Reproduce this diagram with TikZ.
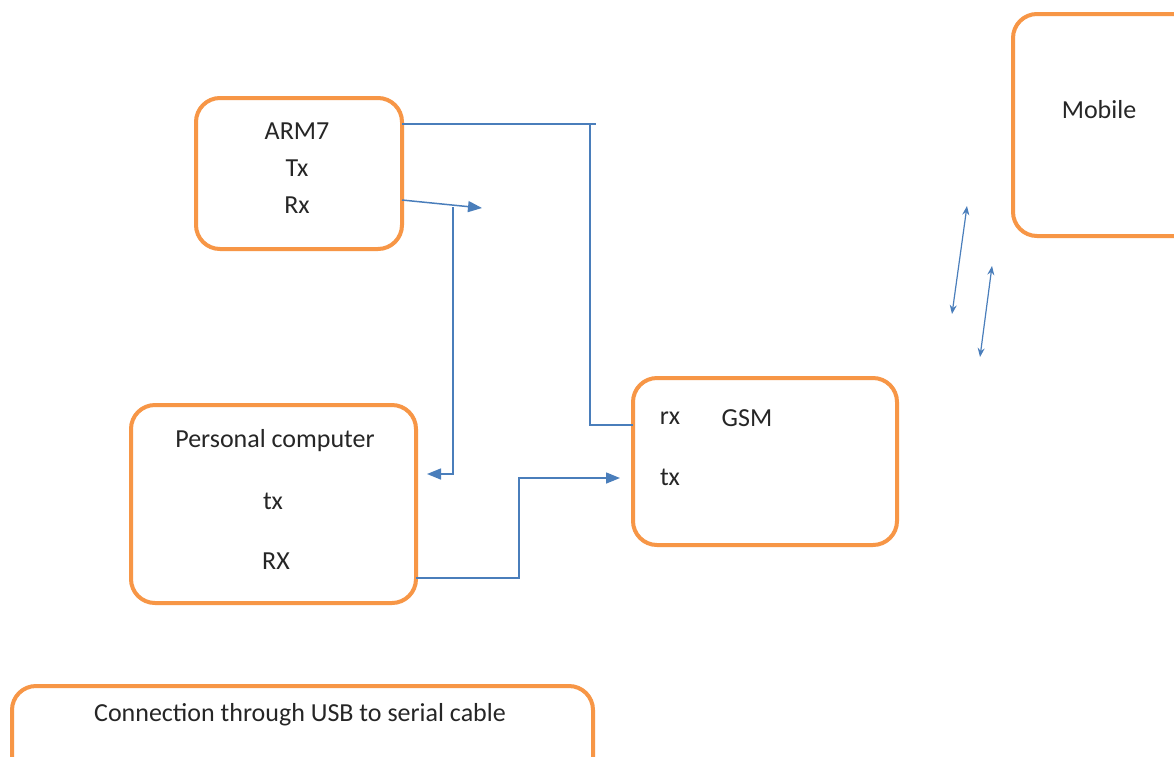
\documentclass[tikz,border=0pt]{standalone}
\usepackage{fontspec}
\setmainfont{Carlito}
\usetikzlibrary{arrows.meta}
\definecolor{boxorange}{HTML}{F79646}
\definecolor{lineblue}{HTML}{4A7EBB}
\definecolor{txt}{HTML}{262626}
\begin{document}
\begin{tikzpicture}[x=1pt,y=-1pt,
  box/.style={draw=boxorange, line width=4pt, rounded corners=24pt, fill=white, anchor=north west, inner sep=0pt, outer sep=0pt},
  lbl/.style={font=\fontsize{26}{30}\selectfont, text=txt, inner sep=0pt},
  wire/.style={draw=lineblue, line width=1.5pt},
  bigtip/.style={-{Triangle[length=14pt,width=11pt]}},
  dbl/.style={draw=lineblue, line width=1.2pt, {Stealth[length=9pt,width=7pt]}-{Stealth[length=9pt,width=7pt]}}]
\useasboundingbox (0,0) rectangle (1174,756);
\clip (0,0) rectangle (1174,756);
\fill[white] (0,0) rectangle (1174,756);

% boxes
\node[box, minimum width=206pt, minimum height=151pt] (arm) at (196,98) {};
\node[box, minimum width=285pt, minimum height=198pt] (pc) at (131,405) {};
\node[box, minimum width=264pt, minimum height=167pt] (gsm) at (633,378) {};
\node[box, minimum width=190pt, minimum height=222pt] (mob) at (1013,14) {};
\node[box, minimum width=581pt, minimum height=110pt] (usb) at (12,686) {};

% labels
\node[lbl] (armt) at (297,131) {ARM7};
\node[lbl] (armtx) at (297,168) {Tx};
\node[lbl] (armrx) at (297,205) {Rx};
\node[lbl] (pct) at (275,441) {Personal computer};
\node[lbl] (pctx) at (273,501) {tx};
\node[lbl] (pcrx) at (276,561) {RX};
\node[lbl] (gsmrx) at (670,418) {rx};
\node[lbl] (gsmt) at (747,418) {GSM};
\node[lbl] (gsmtx) at (670,477) {tx};
\node[lbl] (mobt) at (1099,110) {Mobile};
\node[lbl] (usbt) at (300,715) {Connection through USB to serial cable};

% free ends
\coordinate (tTop) at (596,124);
\coordinate (tCorner) at (590,124);
\coordinate (rxEnd) at (482,208);
\coordinate (vTop) at (453,207);
\coordinate (pcIn) at (427,474);
\coordinate (jog) at (519,478);
\coordinate (gsmIn) at (620,478);
\coordinate (m1a) at (952,314);
\coordinate (m1b) at (967,206);
\coordinate (m2a) at (980,357);
\coordinate (m2b) at (992,266);

% connectors
\draw[wire] ([yshift=49.5pt]arm.east) -- (tTop);
\draw[wire] (tCorner) |- ([yshift=36.5pt]gsm.west);
\draw[wire, bigtip] ([yshift=-26.5pt]arm.east) -- (rxEnd);
\draw[wire, bigtip] (vTop) |- (pcIn);
\draw[wire, bigtip] ([yshift=-74pt]pc.east) -| (jog) -- (gsmIn);
\draw[dbl] (m1a) -- (m1b);
\draw[dbl] (m2a) -- (m2b);
\end{tikzpicture}
\end{document}
